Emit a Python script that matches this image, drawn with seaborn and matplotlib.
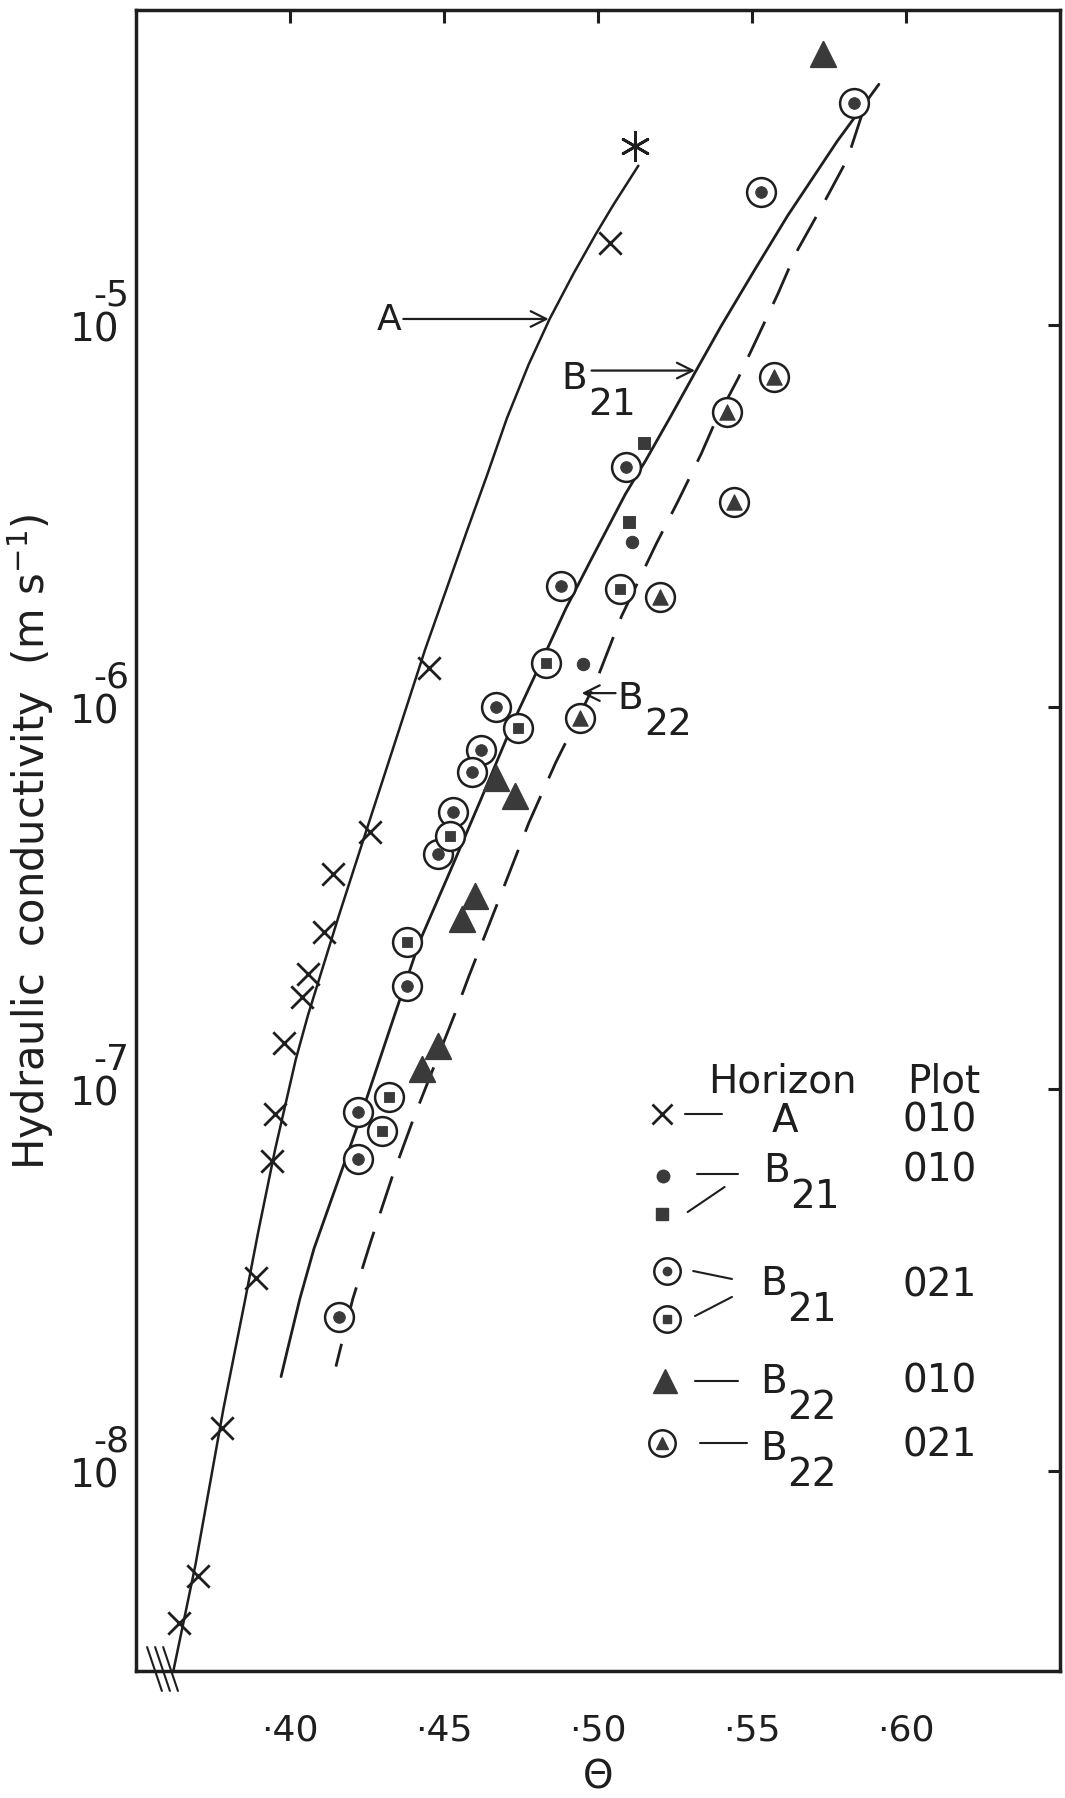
import matplotlib
matplotlib.use('Agg')
import matplotlib.pyplot as plt
import seaborn as sns

# --------------------------------------------------------
# Values (theta, K in m/s)
# --------------------------------------------------------
# Horizon A, plot 010 (crosses)
a_theta = [0.504, 0.445, 0.426, 0.414, 0.411, 0.406, 0.404, 0.398, 0.395, 0.394, 0.389, 0.378, 0.370, 0.364]
a_k = [1.64e-5, 1.27e-6, 4.71e-7, 3.66e-7, 2.58e-7, 2.00e-7, 1.74e-7, 1.32e-7, 8.63e-8, 6.50e-8,
       3.20e-8, 1.30e-8, 5.32e-9, 4.01e-9]

# point at the top of curve A (asterisk)
star_theta = [0.512]
star_k = [2.95e-5]

# Horizon B21, plot 010 (dots and squares)
b21_dot_theta = [0.511, 0.495]
b21_dot_k = [2.71e-6, 1.30e-6]
b21_sq_theta = [0.515, 0.510]
b21_sq_k = [4.92e-6, 3.05e-6]

# Horizon B21, plot 021 (ringed dots and ringed squares)
b21c_dot_theta = [0.583, 0.553, 0.509, 0.488, 0.467, 0.462, 0.459, 0.453, 0.448, 0.438, 0.422, 0.422, 0.416]
b21c_dot_k = [3.83e-5, 2.23e-5, 4.26e-6, 2.08e-6, 1.00e-6, 7.74e-7, 6.79e-7, 5.33e-7, 4.12e-7,
              1.86e-7, 8.73e-8, 6.58e-8, 2.54e-8]
b21c_sq_theta = [0.507, 0.483, 0.474, 0.452, 0.438, 0.432, 0.430]
b21c_sq_k = [2.04e-6, 1.31e-6, 8.85e-7, 4.62e-7, 2.43e-7, 9.55e-8, 7.78e-8]

# Horizon B22, plot 010 (triangles)
b22_theta = [0.573, 0.467, 0.473, 0.460, 0.456, 0.448, 0.443]
b22_k = [5.14e-5, 6.55e-7, 5.85e-7, 3.20e-7, 2.79e-7, 1.30e-7, 1.13e-7]

# Horizon B22, plot 021 (ringed triangles)
b22c_theta = [0.557, 0.542, 0.544, 0.520, 0.494]
b22c_k = [7.31e-6, 5.93e-6, 3.45e-6, 1.94e-6, 9.40e-7]

# Hand drawn curves
curve_a_theta = [0.5131, 0.5050, 0.4992, 0.4921, 0.4843, 0.4775, 0.4704, 0.4640, 0.4572, 0.4507, 0.4439,
                 0.4333, 0.4249, 0.4158, 0.4058, 0.4019, 0.3952, 0.3897, 0.3855, 0.3784, 0.3693, 0.3622]
curve_a_k = [2.62e-5, 2.07e-5, 1.73e-5, 1.37e-5, 1.04e-5, 7.91e-6, 5.71e-6, 4.06e-6, 2.86e-6, 2.03e-6,
             1.42e-6, 7.74e-7, 4.79e-7, 2.84e-7, 1.56e-7, 1.20e-7, 6.98e-8, 4.24e-8, 2.83e-8, 1.46e-8,
             5.69e-9, 3.02e-9]

curve_b21_theta = [0.5912, 0.5777, 0.5616, 0.5509, 0.5399, 0.5315, 0.5238, 0.5154, 0.5089, 0.4979, 0.4895,
                   0.4809, 0.4734, 0.4624, 0.4527, 0.4420, 0.4339, 0.4284, 0.4216, 0.4155, 0.4078, 0.4032,
                   0.3993, 0.3971]
curve_b21_k = [4.28e-5, 3.04e-5, 1.94e-5, 1.40e-5, 9.94e-6, 7.53e-6, 5.82e-6, 4.42e-6, 3.62e-6, 2.45e-6,
               1.81e-6, 1.28e-6, 9.50e-7, 5.85e-7, 3.84e-7, 2.43e-7, 1.56e-7, 1.15e-7, 7.89e-8, 5.73e-8,
               3.83e-8, 2.83e-8, 2.10e-8, 1.77e-8]

curve_b22_theta = [0.5861, 0.5810, 0.5730, 0.5639, 0.5584, 0.5519, 0.5455, 0.5380, 0.5335, 0.5260, 0.5189,
                   0.5076, 0.4992, 0.4863, 0.4776, 0.4675, 0.4581, 0.4533, 0.4404, 0.4333, 0.4262, 0.4204,
                   0.4149]
curve_b22_k = [3.65e-5, 2.73e-5, 2.07e-5, 1.53e-5, 1.21e-5, 9.35e-6, 7.27e-6, 5.58e-6, 4.61e-6, 3.47e-6,
               2.68e-6, 1.73e-6, 1.16e-6, 7.18e-7, 5.00e-7, 3.09e-7, 1.98e-7, 1.56e-7, 8.51e-8, 5.94e-8,
               3.99e-8, 2.83e-8, 1.88e-8]

x_ticks = [0.40, 0.45, 0.50, 0.55, 0.60]
x_tick_labels = ['·40', '·45', '·50', '·55', '·60']
y_ticks = [1e-8, 1e-7, 1e-6, 1e-5]
y_exponents = ['-8', '-7', '-6', '-5']

ink = '#1e1e1e'
fill = '#3a3a3a'

sns.set_theme(style='white')
plt.rcParams['font.family'] = ['DejaVu Sans']
plt.rcParams['mathtext.default'] = 'regular'

fig = plt.figure(figsize=(10.65, 17.99), dpi=100)
ax = fig.add_axes([0.1277, 0.0706, 0.8676, 0.9233])
ax.set_yscale('log')

# --------------------------------------------------------
# Curves
# --------------------------------------------------------
sns.lineplot(x=curve_a_theta, y=curve_a_k, sort=False, estimator=None, color=ink, linewidth=1.8, ax=ax)
sns.lineplot(x=curve_b21_theta, y=curve_b21_k, sort=False, estimator=None, color=ink, linewidth=2.0, ax=ax)
sns.lineplot(x=curve_b22_theta, y=curve_b22_k, sort=False, estimator=None, color=ink, linewidth=2.0,
             linestyle=(0, (14, 7)), ax=ax)

# --------------------------------------------------------
# Points
# --------------------------------------------------------
sns.scatterplot(x=a_theta, y=a_k, marker='x', s=260, color=ink, linewidth=2.0, ax=ax, zorder=3)
sns.scatterplot(x=star_theta, y=star_k, marker=(6, 2, 0), s=420, color=ink, linewidth=2.0, ax=ax, zorder=3)

sns.scatterplot(x=b21_dot_theta, y=b21_dot_k, marker='o', s=80, color=fill, edgecolor=fill, ax=ax, zorder=3)
sns.scatterplot(x=b21_sq_theta, y=b21_sq_k, marker='s', s=70, color=fill, edgecolor=fill, ax=ax, zorder=3)

for th, kk, inner, size in [(b21c_dot_theta, b21c_dot_k, 'o', 70),
                            (b21c_sq_theta, b21c_sq_k, 's', 60),
                            (b22c_theta, b22c_k, '^', 120)]:
    sns.scatterplot(x=th, y=kk, marker='o', s=430, color='white', edgecolor=ink, linewidth=1.8, ax=ax, zorder=3)
    sns.scatterplot(x=th, y=kk, marker=inner, s=size, color=fill, edgecolor=fill, ax=ax, zorder=4)

sns.scatterplot(x=b22_theta, y=b22_k, marker='^', s=330, color=fill, edgecolor=fill, ax=ax, zorder=3)

# --------------------------------------------------------
# Axes
# --------------------------------------------------------
ax.set_xlim(0.35, 0.65)
ax.set_ylim(3.0e-9, 6.7e-5)
ax.set_xticks(x_ticks, x_tick_labels)
ax.set_yticks(y_ticks, ['10'] * len(y_ticks))
ax.minorticks_off()
ax.tick_params(direction='in', length=9, width=2.2, color=ink, labelcolor=ink, top=True, right=True)
ax.tick_params(axis='x', labelsize=26, pad=30)
ax.tick_params(axis='y', labelsize=28, pad=12)
for sp in ax.spines.values():
    sp.set_linewidth(2.5)
    sp.set_color(ink)

for v, e in zip(y_ticks, y_exponents):
    ax.annotate(e, xy=(0, v), xycoords=('axes fraction', 'data'), xytext=(-5, 15),
                textcoords='offset points', ha='right', va='baseline', fontsize=26, color=ink,
                annotation_clip=False)

ax.set_ylabel('Hydraulic  conductivity  (m s$^{-1}$)', fontsize=30, color=ink, labelpad=10)
ax.set_xlabel('Θ', fontsize=28, color=ink, labelpad=8)

# axis break marks
for dx in [0.0, 0.0087, 0.0174]:
    ax.plot([0.012 + dx, 0.028 + dx], [0.0144, -0.0120], transform=ax.transAxes, clip_on=False,
            color=ink, lw=1.5)


def b_text(x, y, sub, coords, size=27):
    ax.annotate('B', xy=(x, y), xycoords=coords, ha='left', va='baseline', fontsize=size, color=ink)
    ax.annotate(sub, xy=(x, y), xycoords=coords, xytext=(19, -19), textcoords='offset points',
                ha='left', va='baseline', fontsize=size, color=ink)


# curve labels with arrows
arrow = dict(arrowstyle='->', color=ink, lw=1.6, shrinkA=0, shrinkB=0, mutation_scale=28)
ax.annotate('', xy=(0.484, 1.04e-5), xytext=(0.4368, 1.04e-5), arrowprops=arrow)
ax.text(0.4362, 1.04e-5, 'A', ha='right', va='center', fontsize=26, color=ink)
ax.annotate('', xy=(0.5315, 7.62e-6), xytext=(0.4979, 7.62e-6), arrowprops=arrow)
b_text(0.4882, 6.88e-6, '21', 'data')
ax.annotate('', xy=(0.4947, 1.09e-6), xytext=(0.5057, 1.09e-6), arrowprops=arrow)
b_text(0.5063, 9.97e-7, '22', 'data')

# --------------------------------------------------------
# Hand drawn legend
# --------------------------------------------------------
T = ax.transAxes
ax.text(0.619, 0.3486, 'Horizon', ha='left', va='baseline', fontsize=28, color=ink, transform=T)
ax.text(0.835, 0.3486, 'Plot', ha='left', va='baseline', fontsize=28, color=ink, transform=T)

ax.plot([0.569], [0.3353], marker='x', ms=14, mew=2, color=ink, transform=T)
ax.plot([0.594, 0.634], [0.3353, 0.3353], color=ink, lw=1.5, transform=T)
ax.text(0.702, 0.3251, 'A', ha='center', va='baseline', fontsize=28, color=ink, transform=T)
ax.text(0.830, 0.3251, '010', ha='left', va='baseline', fontsize=28, color=ink, transform=T)

ax.plot([0.570], [0.2980], marker='o', ms=9, color=fill, mec=fill, transform=T)
ax.plot([0.607, 0.652], [0.2992, 0.2992], color=ink, lw=1.5, transform=T)
ax.plot([0.569], [0.2751], marker='s', ms=8, color=fill, mec=fill, transform=T)
ax.plot([0.597, 0.637], [0.2763, 0.2914], color=ink, lw=1.5, transform=T)
b_text(0.679, 0.2950, '21', 'axes fraction', 28)
ax.text(0.830, 0.2950, '010', ha='left', va='baseline', fontsize=28, color=ink, transform=T)

ax.plot([0.575], [0.2408], marker='o', ms=19, mfc='white', mec=ink, mew=1.8, transform=T)
ax.plot([0.575], [0.2408], marker='o', ms=6, color=fill, mec=fill, transform=T)
ax.plot([0.603, 0.645], [0.2408, 0.2360], color=ink, lw=1.5, transform=T)
ax.plot([0.575], [0.2119], marker='o', ms=19, mfc='white', mec=ink, mew=1.8, transform=T)
ax.plot([0.575], [0.2119], marker='s', ms=6, color=fill, mec=fill, transform=T)
ax.plot([0.605, 0.645], [0.2137, 0.2252], color=ink, lw=1.5, transform=T)
b_text(0.676, 0.2270, '21', 'axes fraction', 28)
ax.text(0.830, 0.2258, '021', ha='left', va='baseline', fontsize=28, color=ink, transform=T)

ax.plot([0.572], [0.1746], marker='^', ms=17, color=fill, mec=fill, transform=T)
ax.plot([0.605, 0.652], [0.1746, 0.1746], color=ink, lw=1.5, transform=T)
b_text(0.676, 0.1680, '22', 'axes fraction', 28)
ax.text(0.830, 0.1680, '010', ha='left', va='baseline', fontsize=28, color=ink, transform=T)

ax.plot([0.569], [0.1373], marker='o', ms=19, mfc='white', mec=ink, mew=1.8, transform=T)
ax.plot([0.569], [0.1373], marker='^', ms=9, color=fill, mec=fill, transform=T)
ax.plot([0.610, 0.661], [0.1373, 0.1373], color=ink, lw=1.5, transform=T)
b_text(0.676, 0.1276, '22', 'axes fraction', 28)
ax.text(0.830, 0.1300, '021', ha='left', va='baseline', fontsize=28, color=ink, transform=T)

fig.savefig('out.png', dpi=100, facecolor='white')
